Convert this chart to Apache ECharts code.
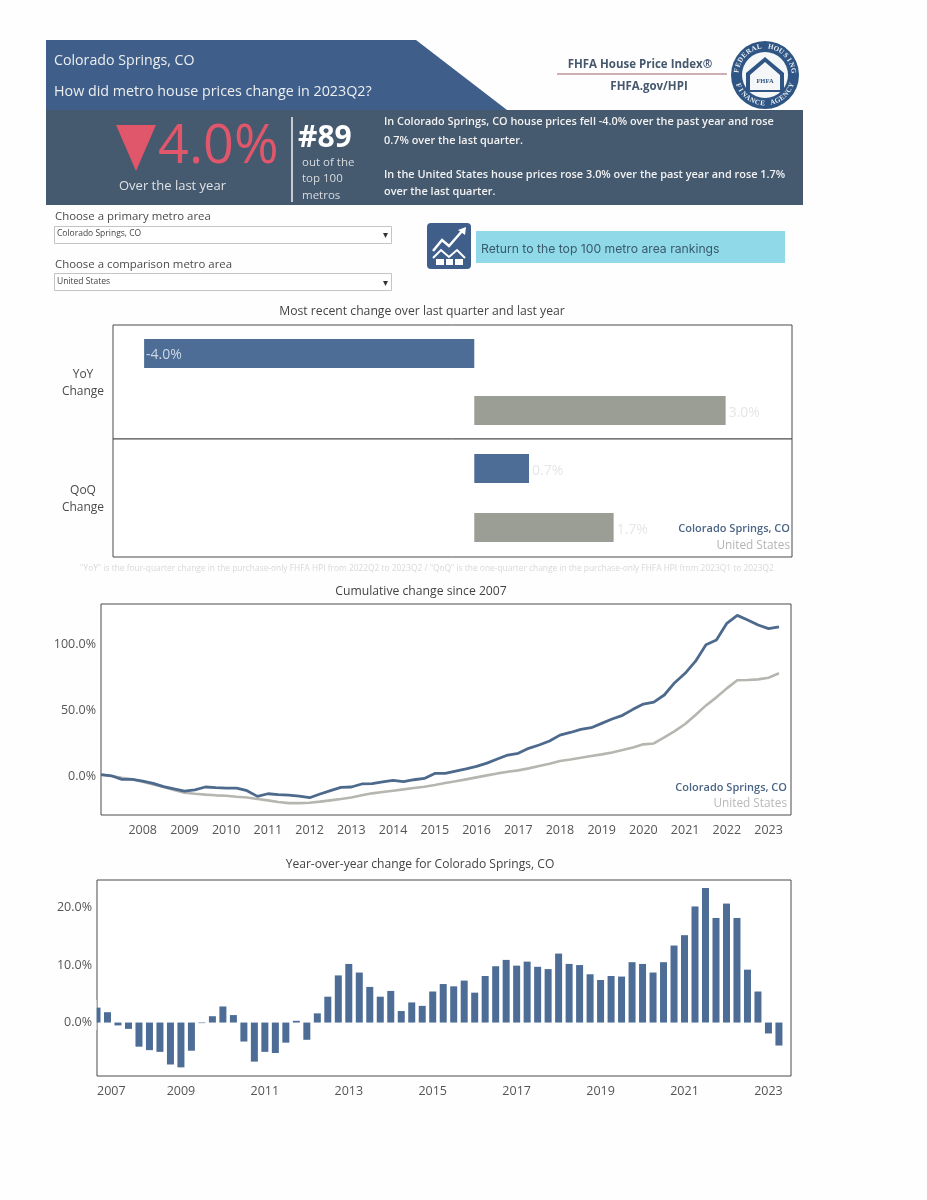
<!DOCTYPE html>
<html><head><meta charset="utf-8">
<style>html,body{margin:0;padding:0;background:#fefefe}#c{width:927px;height:1200px}</style>
<script src="https://cdn.jsdelivr.net/npm/echarts@6/dist/echarts.min.js"></script>
</head><body><div id="c"></div>
<script>
const metroNames = ['Colorado Springs, CO', 'United States'];
const yoyValues = [-3.98, 3.03];
const qoqValues = [0.66, 1.68];
const yoyLabels = ['-4.0%', '3.0%'];
const qoqLabels = ['0.7%', '1.7%'];
const cumulativeMetro = [1,0.2,-2.5,-2.5,-3.8,-5.5,-8,-9.8,-11.4,-10.4,-8.3,-8.8,-9.1,-9.1,-11.1,-15.4,-13.4,-14.1,-14.4,-15.2,-16.4,-13.6,-11.1,-8.6,-8.3,-6,-5.8,-4.5,-3.3,-4.3,-2.8,-1.8,2,2,3.8,5.5,7.3,9.8,12.9,15.9,17.2,21,23.5,26.5,31,33,35.4,36.6,39.9,43.2,46,50.5,54.5,56,61.4,70.7,77.8,87,99.5,103,115.7,121.7,118.2,114.4,111.6,113];
const cumulativeUS = [1,0,-1.3,-2.5,-4.3,-6.3,-8.3,-10.6,-12.6,-13.4,-14.1,-14.6,-14.9,-15.7,-16.2,-17.4,-18.4,-19.7,-20.5,-20.5,-20.2,-19.4,-18.4,-17.4,-16.2,-14.6,-13.1,-12.1,-11.1,-10.1,-9.1,-8.1,-6.8,-5.3,-4,-2.5,-1,0.5,2,3.3,4.3,5.8,7.6,9.3,11.4,12.6,13.9,15.2,16.4,17.9,19.7,21.7,24,24.7,29.3,34,39.4,46.2,53.5,59.6,66.4,72.5,72.7,73.2,74.5,77.8];
const yoyChange = [2.6,1.8,-0.5,-1.1,-4.2,-4.8,-5.1,-7.3,-7.8,-4.9,-0.1,1.1,2.8,1.3,-3.3,-6.8,-5.1,-5.3,-3.5,0.3,-3.0,1.6,4.5,8.2,10.2,8.7,6.2,4.5,5.5,2.0,3.5,2.9,5.4,6.7,6.3,7.3,5.2,8.1,9.8,10.9,9.9,10.6,9.7,9.3,12.0,10.2,10.0,8.4,7.4,8.1,8.0,10.5,10.2,8.7,10.5,13.4,15.2,20.2,23.4,18.2,20.7,18.2,9.2,5.4,-1.9,-4.0];
const lineYearTicks = [2008,2009,2010,2011,2012,2013,2014,2015,2016,2017,2018,2019,2020,2021,2022,2023];
const barYearTicks = [2007,2009,2011,2013,2015,2017,2019,2021,2023];
const lineYTicks = [0,50,100];
const barYTicks = [0,10,20];

const FONT = '"Open Sans", sans-serif';
const BLUE = '#4d6d96', GRAY = '#9b9e94', FRAME = '#4a4a4a', AXIS = '#555';
const qIndex = y => (y - 2007) * 4;
const qYear = v => String(2007 + v / 4);
const pct = v => v.toFixed(1) + '%';

function T(x, y, text, o) {
  o = o || {};
  return { type: 'text', x, y: y + 1, z: o.z || 10, rotation: o.rot || 0, style: {
    text, fill: o.c || '#444', font: (o.w || 'normal') + ' ' + (o.s || 12) + 'px ' + (o.f || FONT),
    align: o.a || 'left', verticalAlign: 'middle', lineHeight: o.lh } };
}
function P(points, fill, z) { return { type: 'polygon', z: z || 5, shape: { points }, style: { fill } }; }
function R(x, y, width, height, fill, stroke, r) {
  return { type: 'rect', z: 5, shape: { x, y, width, height, r: r || 0 }, style: { fill, stroke: stroke || null, lineWidth: stroke ? 1 : 0 } };
}
function L(x1, y1, x2, y2, stroke, w, z) {
  return { type: 'line', z: z || 6, shape: { x1, y1, x2, y2 }, style: { stroke, lineWidth: w || 1 } };
}
function arcText(text, cx, cy, r, a0, a1, bottom) {
  const out = [];
  const n = text.length;
  for (let i = 0; i < n; i++) {
    const a = a0 + (a1 - a0) * (n === 1 ? 0.5 : i / (n - 1));
    const x = cx + r * Math.cos(a), y = cy + r * Math.sin(a);
    const rot = bottom ? -(a - Math.PI / 2) : -(a + Math.PI / 2);
    out.push({ type: 'text', x, y, z: 12, rotation: rot, style: { text: text[i], fill: '#eef2f6',
      font: 'bold 7px "Liberation Serif", serif', align: 'center', verticalAlign: 'middle' } });
  }
  return out;
}

const WHITE = '#eceef0';
const graphics = [
  // header
  P([[46,40],[416,40],[507,110],[46,110]], '#3f5f8a'),
  R(46,110,757,95,'#45596f'),
  T(54,60,'Colorado Springs, CO',{c:WHITE,s:14.2}),
  T(54,91,'How did metro house prices change in 2023Q2?',{c:WHITE,s:14.3}),
  P([[116,125],[156,125],[136,171]], '#e0566a'),
  T(158,147,'4.0%',{c:'#e0566a',s:54}),
  T(119,185,'Over the last year',{c:'#dfe2e6',s:13}),
  L(292,117,292,202,'#f2f2f2',1.5),
  T(298,137,'#89',{c:'#ffffff',s:30,w:'bold'}),
  T(302,162,'out of the',{c:'#d8dce0',s:11.5}),
  T(302,178,'top 100',{c:'#d8dce0',s:11.5}),
  T(302,195,'metros',{c:'#d8dce0',s:11.5}),
  T(384,121,'In Colorado Springs, CO house prices fell -4.0% over the past year and rose',{c:'#f2f2f2',s:10.9,w:'600'}),
  T(384,140,'0.7% over the last quarter.',{c:'#f2f2f2',s:10.9,w:'600'}),
  T(384,174,'In the United States house prices rose 3.0% over the past year and rose 1.7%',{c:'#f2f2f2',s:10.9,w:'600'}),
  T(384,191,'over the last quarter.',{c:'#f2f2f2',s:10.9,w:'600'}),
  // FHFA block
  T(640,64,'FHFA House Price Index®',{c:'#46586e',s:11.5,w:'bold',a:'center'}),
  L(557,74,727,74,'#a0606c',1),
  T(649,86,'FHFA.gov/HPI',{c:'#46586e',s:11.5,w:'bold',a:'center'}),
  { type:'circle', z:5, shape:{cx:765,cy:75,r:34}, style:{fill:'#2f5584'} },
  { type:'circle', z:6, shape:{cx:765,cy:75,r:23}, style:{fill:'#f4f6f8'} },
  P([[765,57],[784,73],[784,92],[746,92],[746,73]], '#2f5584', 7),
  P([[765,62],[780,75],[780,90],[750,90],[750,75]], '#f4f6f8', 8),
  R(754,74,22,16,'#e4e9ee','#2f5584'),
  { type:'text', x:765, y:81, z:11, style:{text:'FHFA',fill:'#2f5584',font:'bold 6.5px "Liberation Serif", serif',align:'center',verticalAlign:'middle'} },
  ...arcText('FEDERAL HOUSING', 765, 75, 28.5, -Math.PI*0.95, -Math.PI*0.05, false),
  ...arcText('FINANCE AGENCY', 765, 75, 28.5, Math.PI*0.88, Math.PI*0.12, true),
  // filters
  T(55,216,'Choose a primary metro area',{c:'#4a4a4a',s:11.4}),
  R(54.5,226.5,337,17,'#fff','#c4c4c4'),
  T(57,233,'Colorado Springs, CO',{c:'#444',s:8.5}),
  T(385,234,'▾',{c:'#333',s:10,a:'center'}),
  T(55,264,'Choose a comparison metro area',{c:'#4a4a4a',s:11.4}),
  R(54.5,273.5,337,17,'#fff','#c4c4c4'),
  T(57,281,'United States',{c:'#444',s:8.5}),
  T(385,282,'▾',{c:'#333',s:10,a:'center'}),
  // return button
  R(427,223,44,46,'#3f5f8a',null,4),
  { type:'polyline', z:7, shape:{points:[[433,251],[442,240],[449,246],[463,230]]}, style:{stroke:'#fff',lineWidth:2.5,fill:null} },
  P([[458,230],[466,227],[465,235]], '#fff', 7),
  { type:'polyline', z:7, shape:{points:[[433,258],[441,250],[449,257],[457,250],[465,258]]}, style:{stroke:'#fff',lineWidth:2,fill:null} },
  R(436,259,8,6,'#fff'), R(446,259,7,6,'#fff'), R(455,259,8,6,'#fff'),
  R(476,231,309,32,'#8fd9e8'),
  T(481,248,'Return to the top 100 metro area rankings',{c:'#3a5a6c',s:12.2,f:'"Inter", sans-serif'}),
  // titles
  T(422,311,'Most recent change over last quarter and last year',{c:'#444',s:12.2,a:'center'}),
  T(421,591,'Cumulative change since 2007',{c:'#444',s:12.2,a:'center'}),
  T(420,864,'Year-over-year change for Colorado Springs, CO',{c:'#444',s:12.1,a:'center'}),
  T(427,568,'"YoY" is the four-quarter change in the purchase-only FHFA HPI from 2022Q2 to 2023Q2 / "QoQ" is the one-quarter change in the purchase-only FHFA HPI from 2023Q1 to 2023Q2',{c:'#d8d8d8',s:8.4,a:'center'}),
  // row labels
  T(83,374,'YoY',{c:'#4a4a4a',s:12,a:'center'}),
  T(83,391,'Change',{c:'#4a4a4a',s:12,a:'center'}),
  T(83,490,'QoQ',{c:'#4a4a4a',s:12,a:'center'}),
  T(83,507,'Change',{c:'#4a4a4a',s:12,a:'center'}),
  // colour keys
  T(790,528,metroNames[0],{c:'#4a6585',s:11,w:'600',a:'right'}),
  T(790,545,metroNames[1],{c:'#b4b4b4',s:11.8,a:'right'}),
  T(787,787,metroNames[0],{c:'#4a6585',s:11,w:'600',a:'right'}),
  T(787,803,metroNames[1],{c:'#b8b8b8',s:11.8,a:'right'}),
  // page-coloured mask: the first quarter's bar is cut by the plot's left edge
  { type:'rect', z:20, shape:{x:92.8,y:1000,width:3.7,height:30}, style:{fill:'#fefefe'} }
];

function rowSeries(values, labels, gridIdx) {
  return {
    type:'bar', xAxisIndex:gridIdx, yAxisIndex:gridIdx, barWidth:29, silent:true,
    data: values.map((v,i)=>({ value:v, itemStyle:{color:i===0?BLUE:GRAY},
      label:{ show:true, position:v<0?'insideLeft':'right', distance:v<0?2:3, offset:[0,v<0?2:3], formatter:labels[i],
        color:v<0?'#cfd8e4':'#e6e6e6', fontSize:14, fontFamily:FONT } }))
  };
}
function rowX(idx) {
  return { type:'value', gridIndex:idx, min:-4.355, max:3.83, show:false };
}
function rowY(idx) {
  return { type:'category', gridIndex:idx, data:metroNames, inverse:true, show:false };
}
const frame = { show:true, borderColor:FRAME, borderWidth:1, backgroundColor:'#fff' };
const label = { color:AXIS, fontSize:12.5, fontFamily:FONT };

const option = {
  animation:false,
  backgroundColor:'#fefefe',
  graphic:{ elements:graphics },
  grid:[
    Object.assign({left:113,top:325,width:679,height:114},frame),
    Object.assign({left:113,top:439,width:679,height:118},frame),
    Object.assign({left:101,top:604,width:690,height:211},frame),
    Object.assign({left:97,top:880,width:694,height:196},frame)
  ],
  xAxis:[
    rowX(0), rowX(1),
    { type:'value', gridIndex:2, min:0, max:66.15, splitLine:{show:false}, axisLine:{show:false}, axisTick:{show:false},
      axisLabel:Object.assign({customValues:lineYearTicks.map(qIndex), formatter:qYear, margin:9},label) },
    { type:'value', gridIndex:3, min:0, max:66.15, splitLine:{show:false}, axisLine:{show:false}, axisTick:{show:false},
      axisLabel:Object.assign({customValues:barYearTicks.map(qIndex), formatter:qYear, margin:9, alignMinLabel:'left'},label) }
  ],
  yAxis:[
    rowY(0), rowY(1),
    { type:'value', gridIndex:2, min:-29.5, max:130.3, splitLine:{show:false}, axisLine:{show:false}, axisTick:{show:false},
      axisLabel:Object.assign({customValues:lineYTicks, formatter:pct, margin:5},label) },
    { type:'value', gridIndex:3, min:-9.3, max:24.8, splitLine:{show:false}, axisLine:{show:false}, axisTick:{show:false},
      axisLabel:Object.assign({customValues:barYTicks, formatter:pct, margin:5},label) }
  ],
  series:[
    rowSeries(yoyValues,yoyLabels,0),
    rowSeries(qoqValues,qoqLabels,1),
    { type:'line', name:metroNames[1], xAxisIndex:2, yAxisIndex:2, showSymbol:false, silent:true, z:2,
      lineStyle:{color:'#b6b6b0',width:2.6}, data:cumulativeUS.map((v,i)=>[i,v]) },
    { type:'line', name:metroNames[0], xAxisIndex:2, yAxisIndex:2, showSymbol:false, silent:true, z:3,
      lineStyle:{color:'#4d6a8c',width:2.8}, data:cumulativeMetro.map((v,i)=>[i,v]) },
    { type:'bar', xAxisIndex:3, yAxisIndex:3, barWidth:7, clip:true, silent:true, itemStyle:{color:BLUE},
      data:yoyChange.map((v,i)=>[i,v]) }
  ]
};
echarts.init(document.getElementById('c')).setOption(option);
</script></body></html>
